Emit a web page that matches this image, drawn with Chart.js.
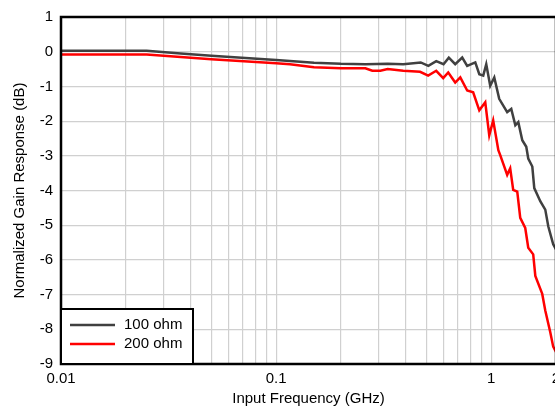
<!DOCTYPE html>
<html>
<head>
<meta charset="utf-8">
<script src="https://cdn.jsdelivr.net/npm/chart.js@4.4.0/dist/chart.umd.min.js"></script>
<style>
html, body { margin: 0; padding: 0; background: #fff; overflow: hidden; }
#wrap { width: 555px; height: 409px; overflow: hidden; }
#box { width: 575px; height: 409px; position: relative; }
</style>
</head>
<body>
<div id="wrap"><div id="box"><canvas id="mycanvas"></canvas></div></div>
<script>
// frequency in GHz, gain in dB
var freq100 = [0.01, 0.025, 0.036, 0.05, 0.1, 0.15, 0.2, 0.26, 0.33, 0.39, 0.47, 0.51, 0.555, 0.6, 0.635, 0.68, 0.733, 0.773, 0.843, 0.88, 0.918, 0.948, 0.989, 1.033, 1.089, 1.186, 1.239, 1.294, 1.336, 1.394, 1.455, 1.486, 1.552, 1.585, 1.69, 1.783, 1.841, 1.941, 2.0];
var gain100 = [0.03, 0.03, -0.05, -0.12, -0.24, -0.32, -0.35, -0.36, -0.35, -0.36, -0.31, -0.41, -0.27, -0.36, -0.17, -0.36, -0.17, -0.41, -0.31, -0.65, -0.69, -0.36, -0.98, -0.74, -1.36, -1.74, -1.65, -2.12, -2.03, -2.55, -2.74, -3.08, -3.31, -3.93, -4.31, -4.55, -5.03, -5.55, -5.7];
var freq200 = [0.01, 0.025, 0.036, 0.05, 0.1, 0.116, 0.15, 0.2, 0.26, 0.28, 0.305, 0.33, 0.39, 0.467, 0.509, 0.555, 0.598, 0.631, 0.68, 0.718, 0.773, 0.824, 0.88, 0.938, 0.979, 1.021, 1.079, 1.101, 1.186, 1.225, 1.265, 1.321, 1.364, 1.439, 1.486, 1.567, 1.603, 1.726, 1.783, 1.88, 1.941, 2.0];
var gain200 = [-0.08, -0.08, -0.15, -0.22, -0.33, -0.36, -0.45, -0.48, -0.48, -0.55, -0.55, -0.5, -0.55, -0.58, -0.69, -0.55, -0.76, -0.6, -0.89, -0.74, -1.12, -1.17, -1.69, -1.46, -2.41, -1.98, -2.84, -2.98, -3.55, -3.36, -3.98, -4.03, -4.79, -5.08, -5.65, -5.84, -6.46, -6.98, -7.46, -8.08, -8.5, -8.65];
var seriesNames = ["100 ohm", "200 ohm"];
var seriesColors = ["#404040", "#ff0000"];
var xTickLabels = [0.01, 0.1, 1, 2];

function toPoints(xs, ys) {
	var pts = [];
	for (var i in xs) pts.push({x: xs[i], y: ys[i]});
	return pts;
}

var fontFamily = "'Liberation Sans', Arial, sans-serif";

var frame = {
	id: 'frame',
	afterDatasetsDraw: function(chart) {
		var a = chart.chartArea, ctx = chart.ctx;
		ctx.save();
		ctx.strokeStyle = '#000';
		ctx.lineWidth = 2.5;
		ctx.strokeRect(a.left, a.top, a.right - a.left, a.bottom - a.top);

		// legend box in lower left corner
		var bx = a.left, by = a.bottom - 55, bw = 132, bh = 55;
		ctx.fillStyle = '#fff';
		ctx.fillRect(bx, by, bw, bh);
		ctx.lineWidth = 2;
		ctx.strokeRect(bx, by, bw, bh);
		ctx.font = '15px ' + fontFamily;
		ctx.textBaseline = 'middle';
		for (var i = 0; i < seriesNames.length; i++) {
			var ly = by + 16 + i * 19;
			ctx.strokeStyle = seriesColors[i];
			ctx.lineWidth = 2.5;
			ctx.beginPath();
			ctx.moveTo(bx + 9, ly);
			ctx.lineTo(bx + 54, ly);
			ctx.stroke();
			ctx.fillStyle = '#000';
			ctx.fillText(seriesNames[i], bx + 63, ly);
		}
		ctx.restore();
	}
};

var ctx = document.getElementById('mycanvas');
var LineGraph = new Chart(ctx, {
	type: 'scatter',
	data: {
		datasets: [
			{
				label: seriesNames[0],
				data: toPoints(freq100, gain100),
				showLine: true,
				borderColor: seriesColors[0],
				borderWidth: 2.5,
				pointRadius: 0,
				tension: 0
			},
			{
				label: seriesNames[1],
				data: toPoints(freq200, gain200),
				showLine: true,
				borderColor: seriesColors[1],
				borderWidth: 2.5,
				pointRadius: 0,
				tension: 0
			}
		]
	},
	options: {
		responsive: true,
		maintainAspectRatio: false,
		animation: false,
		layout: { padding: { top: 14, right: 19, left: 0, bottom: 0 } },
		plugins: { legend: { display: false }, tooltip: { enabled: false } },
		scales: {
			x: {
				type: 'logarithmic',
				min: 0.01,
				max: 2,
				afterBuildTicks: function(scale) {
					var t = [];
					[0.01, 0.1].forEach(function(d) {
						for (var k = 1; k <= 9; k++) t.push({value: Number((k * d).toPrecision(3))});
					});
					t.push({value: 1});
					t.push({value: 2});
					scale.ticks = t;
				},
				afterFit: function(scale) { scale.height = 45; },
				grid: { color: '#d0d0d0', lineWidth: 1.2, drawTicks: false },
				border: { display: false },
				ticks: {
					autoSkip: false,
					maxRotation: 0,
					padding: 6,
					color: '#000',
					font: { family: fontFamily, size: 15 },
					callback: function(value) {
						for (var i in xTickLabels) {
							if (Math.abs(xTickLabels[i] - value) < 1e-9) return String(xTickLabels[i]);
						}
						return '';
					}
				},
				title: {
					display: true,
					text: 'Input Frequency (GHz)',
					color: '#000',
					font: { family: fontFamily, size: 15 },
					padding: { top: 0, bottom: 1 }
				}
			},
			y: {
				min: -9,
				max: 1,
				afterFit: function(scale) { scale.width = 61; },
				grid: { color: '#d0d0d0', lineWidth: 1.2, drawTicks: false },
				border: { display: false },
				ticks: {
					stepSize: 0.5,
					padding: 8,
					color: '#000',
					font: { family: fontFamily, size: 15 },
					callback: function(value) {
						return Number.isInteger(value) ? String(value) : '';
					}
				},
				title: {
					display: true,
					text: 'Normalized Gain Response (dB)',
					color: '#000',
					font: { family: fontFamily, size: 15 },
					padding: { top: 11, bottom: 0 }
				}
			}
		}
	},
	plugins: [frame]
});
</script>
</body>
</html>
